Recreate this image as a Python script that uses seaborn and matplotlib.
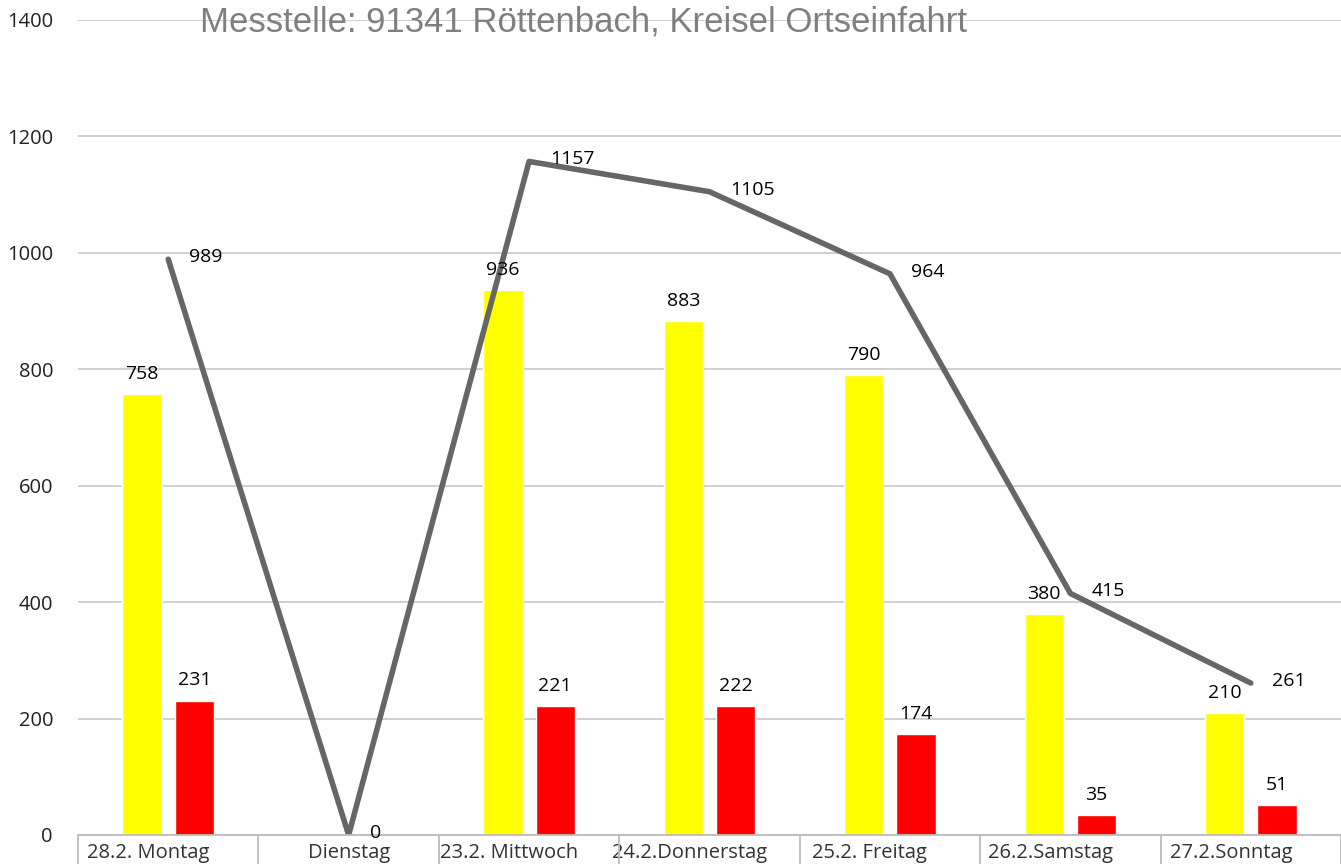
import matplotlib
matplotlib.use("Agg")
import matplotlib.pyplot as plt
import matplotlib.transforms as mtransforms
import seaborn as sns
import pandas as pd
import numpy as np

# ---- data ----
categories = ["28.2. Montag", "Dienstag", "23.2. Mittwoch", "24.2.Donnerstag",
              "25.2. Freitag", "26.2.Samstag", "27.2.Sonntag"]
yellow_vals = [758, 0, 936, 883, 790, 380, 210]
red_vals = [231, 0, 221, 222, 174, 35, 51]
total_vals = [989, 0, 1157, 1105, 964, 415, 261]
series_names = ["gelb", "rot"]
title = "Messtelle: 91341 Röttenbach, Kreisel Ortseinfahrt"
yticks = [0, 200, 400, 600, 800, 1000, 1200, 1400]

sns.set_theme(style="white")
plt.rcParams['font.family'] = ['Open Sans', 'DejaVu Sans']

df = pd.DataFrame({
    "Tag": categories * 2,
    "Wert": yellow_vals + red_vals,
    "Serie": [series_names[0]] * len(categories) + [series_names[1]] * len(categories),
})

fig = plt.figure(figsize=(13.41, 8.64), dpi=100)
ax = fig.add_axes([78 / 1341, 29 / 864, 1 - 78 / 1341, (835 - 20) / 864])

sns.barplot(data=df, x="Tag", y="Wert", hue="Serie", order=categories,
            hue_order=series_names, palette=["#FFFF00", "#FF0000"],
            width=0.58, gap=0.25, ax=ax, legend=False, saturation=1)

# bar labels (skip zero)
for cont in ax.containers:
    labels = [f"{int(v)}" if v > 0 else "" for v in cont.datavalues]
    ax.bar_label(cont, labels=labels, padding=8, fontsize=14, color="black")

# total line
xpos = np.arange(len(categories))
sns.lineplot(x=xpos, y=total_vals, color="#666666", linewidth=4, ax=ax)
off = mtransforms.offset_copy(ax.transData, fig=fig, x=21, y=2, units="dots")
for x, v in zip(xpos, total_vals):
    ax.text(x, v, f"{v}", transform=off, ha="left", va="center",
            fontsize=14, color="black")

ax.set_xlim(-0.5, len(categories) - 0.5)
ax.set_ylim(0, 1400)
ax.set_yticks(yticks)
ax.set_yticklabels([str(t) for t in yticks], fontsize=14.5, color="#222222")
ax.yaxis.grid(True, color="#cccccc", linewidth=1.3)
ax.set_axisbelow(True)
for s in ["top", "right", "left"]:
    ax.spines[s].set_visible(False)
ax.spines["bottom"].set_color("#bbbbbb")
ax.spines["bottom"].set_linewidth(1.3)
ax.tick_params(axis="y", length=0, pad=18)
ax.tick_params(axis="x", length=0, pad=6, labelsize=14.5, labelcolor="#333333")
ax.set_xlabel("")
ax.set_ylabel("")

# shift dated labels slightly left, as in the original
for lab in ax.get_xticklabels():
    if "." in lab.get_text():
        lab.set_transform(lab.get_transform() +
                          mtransforms.ScaledTranslation(-20 / 100, 0, fig.dpi_scale_trans))

# category separators below axis
trans = mtransforms.blended_transform_factory(ax.transData, ax.transAxes)
for b in np.arange(-0.5, len(categories), 1.0):
    ax.plot([b, b], [0, -0.045], transform=trans, color="#bbbbbb",
            linewidth=1.3, clip_on=False)

fig.text(583 / 1341, 1 - 22 / 864, title, ha="center", va="center",
         fontsize=25, color="#7f7f7f", family=["Liberation Sans", "DejaVu Sans"])

fig.savefig("out.png", dpi=100)
